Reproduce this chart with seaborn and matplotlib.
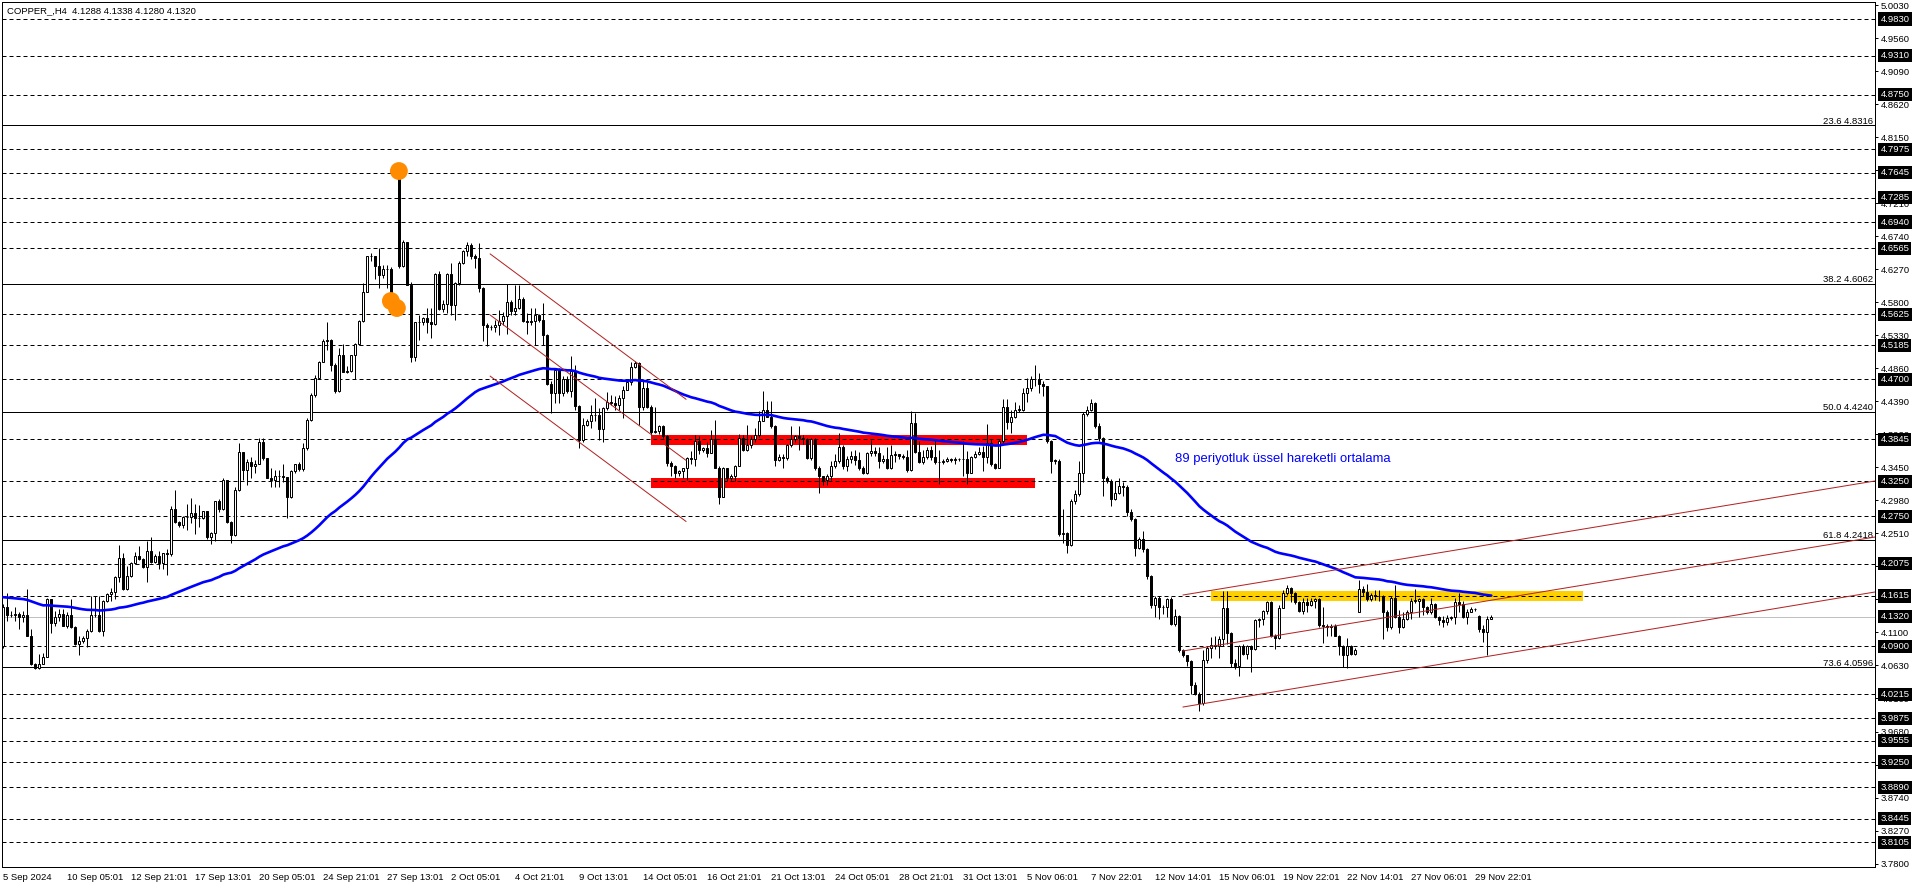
import numpy as np
import pandas as pd
import seaborn as sns
import matplotlib
matplotlib.use('Agg')
import matplotlib.pyplot as plt
from matplotlib.patches import Rectangle
from matplotlib.transforms import blended_transform_factory

# ---------------- data (COPPER_, H4) ----------------
closes = [
    4.146, 4.135, 4.134, 4.136, 4.131, 4.135, 4.105, 4.064, 4.059, 4.065,
    4.074, 4.157, 4.123, 4.131, 4.136, 4.119, 4.135, 4.117, 4.093, 4.098,
    4.102, 4.112, 4.134, 4.135, 4.112, 4.154, 4.164, 4.167, 4.188, 4.216,
    4.172, 4.190, 4.208, 4.219, 4.214, 4.203, 4.226, 4.210, 4.218, 4.208,
    4.222, 4.221, 4.285, 4.267, 4.262, 4.274, 4.274, 4.279, 4.272, 4.273,
    4.282, 4.246, 4.251, 4.296, 4.285, 4.326, 4.267, 4.248, 4.313, 4.366,
    4.341, 4.352, 4.346, 4.350, 4.381, 4.358, 4.330, 4.327, 4.332, 4.333,
    4.331, 4.303, 4.339, 4.349, 4.342, 4.372, 4.412, 4.448, 4.472, 4.495,
    4.525, 4.526, 4.490, 4.453, 4.504, 4.481, 4.482, 4.504, 4.520, 4.553,
    4.595, 4.645, 4.645, 4.631, 4.619, 4.627, 4.627, 4.585, 4.587, 4.631,
    4.665, 4.605, 4.502, 4.551, 4.551, 4.557, 4.552, 4.549, 4.620, 4.570,
    4.577, 4.620, 4.576, 4.607, 4.635, 4.653, 4.661, 4.646, 4.643, 4.600,
    4.547, 4.544, 4.544, 4.548, 4.553, 4.560, 4.580, 4.567, 4.571, 4.584,
    4.553, 4.552, 4.553, 4.562, 4.554, 4.533, 4.464, 4.450, 4.483, 4.450,
    4.471, 4.453, 4.482, 4.432, 4.384, 4.405, 4.411, 4.419, 4.419, 4.399,
    4.429, 4.438, 4.436, 4.433, 4.443, 4.455, 4.466, 4.488, 4.493, 4.431,
    4.458, 4.431, 4.395, 4.396, 4.403, 4.389, 4.351, 4.347, 4.337, 4.339,
    4.343, 4.358, 4.357, 4.382, 4.370, 4.372, 4.365, 4.385, 4.344, 4.303,
    4.343, 4.329, 4.332, 4.347, 4.387, 4.370, 4.376, 4.385, 4.390, 4.411,
    4.426, 4.417, 4.404, 4.355, 4.359, 4.358, 4.376, 4.385, 4.389, 4.387,
    4.385, 4.358, 4.385, 4.343, 4.332, 4.327, 4.333, 4.347, 4.354, 4.374,
    4.347, 4.356, 4.361, 4.355, 4.343, 4.336, 4.365, 4.368, 4.365, 4.354,
    4.356, 4.344, 4.362, 4.363, 4.361, 4.360, 4.341, 4.408, 4.367, 4.352,
    4.360, 4.370, 4.360, 4.352, 4.352, 4.353, 4.357, 4.355, 4.357, 4.356,
    4.357, 4.337, 4.360, 4.363, 4.367, 4.360, 4.380, 4.349, 4.344, 4.382,
    4.431, 4.409, 4.417, 4.427, 4.427, 4.451, 4.457, 4.471, 4.470, 4.463,
    4.460, 4.382, 4.354, 4.354, 4.249, 4.251, 4.234, 4.297, 4.306, 4.337,
    4.420, 4.426, 4.436, 4.404, 4.386, 4.329, 4.325, 4.300, 4.308, 4.318,
    4.317, 4.281, 4.271, 4.230, 4.243, 4.229, 4.190, 4.148, 4.158, 4.146,
    4.146, 4.157, 4.121, 4.133, 4.084, 4.077, 4.069, 4.035, 4.022, 4.009,
    4.070, 4.087, 4.092, 4.090, 4.100, 4.144, 4.109, 4.066, 4.062, 4.090,
    4.079, 4.090, 4.086, 4.127, 4.128, 4.140, 4.153, 4.105, 4.101, 4.145,
    4.165, 4.173, 4.165, 4.153, 4.140, 4.153, 4.148, 4.155, 4.157, 4.120,
    4.118, 4.117, 4.119, 4.105, 4.090, 4.077, 4.090, 4.079, 4.084, 4.171,
    4.167, 4.157, 4.163, 4.161, 4.161, 4.139, 4.117, 4.158, 4.131, 4.117,
    4.128, 4.138, 4.155, 4.155, 4.157, 4.146, 4.138, 4.150, 4.132, 4.127,
    4.124, 4.130, 4.131, 4.153, 4.150, 4.131, 4.139, 4.143, 4.143, 4.115,
    4.110, 4.1288, 4.1320,
]

highs = [
    4.150, 4.166, 4.140, 4.146, 4.139, 4.140, 4.172, 4.114, 4.066, 4.079,
    4.080, 4.158, 4.157, 4.140, 4.143, 4.143, 4.138, 4.157, 4.118, 4.105,
    4.105, 4.114, 4.161, 4.161, 4.161, 4.156, 4.166, 4.173, 4.190, 4.234,
    4.222, 4.204, 4.210, 4.224, 4.233, 4.216, 4.240, 4.246, 4.221, 4.225,
    4.223, 4.229, 4.290, 4.313, 4.268, 4.276, 4.292, 4.301, 4.292, 4.291,
    4.283, 4.283, 4.252, 4.297, 4.300, 4.329, 4.327, 4.268, 4.316, 4.379,
    4.366, 4.356, 4.360, 4.355, 4.386, 4.386, 4.358, 4.343, 4.341, 4.341,
    4.350, 4.331, 4.341, 4.350, 4.352, 4.379, 4.415, 4.450, 4.476, 4.496,
    4.528, 4.551, 4.528, 4.493, 4.515, 4.520, 4.489, 4.505, 4.521, 4.555,
    4.607, 4.646, 4.650, 4.646, 4.657, 4.633, 4.633, 4.630, 4.590, 4.767,
    4.668, 4.666, 4.609, 4.552, 4.562, 4.559, 4.571, 4.572, 4.621, 4.624,
    4.583, 4.621, 4.635, 4.609, 4.638, 4.654, 4.665, 4.664, 4.648, 4.664,
    4.602, 4.550, 4.548, 4.555, 4.569, 4.566, 4.606, 4.583, 4.605, 4.605,
    4.587, 4.565, 4.571, 4.571, 4.563, 4.579, 4.535, 4.467, 4.486, 4.486,
    4.474, 4.475, 4.503, 4.490, 4.434, 4.415, 4.413, 4.434, 4.443, 4.429,
    4.431, 4.452, 4.447, 4.446, 4.448, 4.460, 4.469, 4.495, 4.496, 4.494,
    4.469, 4.466, 4.433, 4.430, 4.405, 4.405, 4.391, 4.353, 4.348, 4.341,
    4.344, 4.359, 4.368, 4.391, 4.389, 4.374, 4.381, 4.398, 4.412, 4.346,
    4.345, 4.343, 4.335, 4.348, 4.392, 4.390, 4.405, 4.389, 4.400, 4.425,
    4.453, 4.439, 4.439, 4.405, 4.363, 4.363, 4.378, 4.403, 4.390, 4.403,
    4.390, 4.387, 4.386, 4.386, 4.347, 4.333, 4.335, 4.353, 4.363, 4.394,
    4.376, 4.361, 4.368, 4.370, 4.366, 4.346, 4.366, 4.384, 4.373, 4.374,
    4.362, 4.373, 4.376, 4.368, 4.364, 4.363, 4.370, 4.425, 4.422, 4.382,
    4.370, 4.373, 4.375, 4.384, 4.370, 4.356, 4.360, 4.358, 4.359, 4.358,
    4.382, 4.368, 4.361, 4.368, 4.373, 4.375, 4.406, 4.385, 4.351, 4.385,
    4.442, 4.442, 4.427, 4.437, 4.433, 4.457, 4.472, 4.475, 4.490, 4.479,
    4.468, 4.461, 4.384, 4.356, 4.356, 4.285, 4.252, 4.299, 4.313, 4.354,
    4.423, 4.432, 4.442, 4.437, 4.408, 4.388, 4.332, 4.328, 4.325, 4.329,
    4.324, 4.320, 4.285, 4.272, 4.245, 4.254, 4.230, 4.192, 4.162, 4.162,
    4.148, 4.159, 4.160, 4.143, 4.134, 4.086, 4.078, 4.070, 4.039, 4.025,
    4.084, 4.090, 4.103, 4.104, 4.104, 4.169, 4.169, 4.110, 4.072, 4.092,
    4.093, 4.092, 4.091, 4.129, 4.130, 4.141, 4.154, 4.155, 4.108, 4.148,
    4.170, 4.177, 4.174, 4.167, 4.155, 4.158, 4.158, 4.158, 4.159, 4.159,
    4.146, 4.122, 4.122, 4.121, 4.106, 4.092, 4.101, 4.092, 4.087, 4.184,
    4.175, 4.179, 4.165, 4.170, 4.170, 4.163, 4.141, 4.161, 4.177, 4.141,
    4.139, 4.141, 4.158, 4.172, 4.159, 4.158, 4.147, 4.158, 4.151, 4.133,
    4.133, 4.134, 4.133, 4.158, 4.165, 4.155, 4.143, 4.146, 4.145, 4.134,
    4.120, 4.133, 4.1338,
]

lows = [
    4.088, 4.126, 4.131, 4.126, 4.115, 4.124, 4.104, 4.063, 4.057, 4.057,
    4.065, 4.074, 4.109, 4.119, 4.126, 4.118, 4.116, 4.116, 4.091, 4.077,
    4.095, 4.089, 4.110, 4.131, 4.110, 4.105, 4.153, 4.155, 4.157, 4.181,
    4.170, 4.170, 4.189, 4.207, 4.212, 4.202, 4.181, 4.208, 4.209, 4.200,
    4.200, 4.191, 4.219, 4.265, 4.259, 4.258, 4.256, 4.265, 4.249, 4.259,
    4.271, 4.242, 4.235, 4.240, 4.281, 4.284, 4.266, 4.237, 4.247, 4.311,
    4.327, 4.320, 4.329, 4.336, 4.349, 4.355, 4.329, 4.317, 4.317, 4.316,
    4.324, 4.273, 4.301, 4.336, 4.340, 4.339, 4.369, 4.410, 4.445, 4.471,
    4.494, 4.512, 4.482, 4.450, 4.452, 4.480, 4.479, 4.481, 4.471, 4.519,
    4.552, 4.594, 4.639, 4.613, 4.600, 4.614, 4.600, 4.575, 4.576, 4.629,
    4.630, 4.604, 4.495, 4.496, 4.526, 4.548, 4.536, 4.529, 4.548, 4.569,
    4.566, 4.564, 4.562, 4.555, 4.605, 4.634, 4.646, 4.642, 4.628, 4.595,
    4.524, 4.517, 4.540, 4.538, 4.533, 4.547, 4.534, 4.562, 4.562, 4.570,
    4.552, 4.535, 4.547, 4.519, 4.552, 4.519, 4.462, 4.422, 4.436, 4.436,
    4.446, 4.450, 4.445, 4.426, 4.372, 4.381, 4.403, 4.400, 4.410, 4.384,
    4.381, 4.426, 4.434, 4.426, 4.426, 4.415, 4.455, 4.462, 4.486, 4.405,
    4.426, 4.429, 4.391, 4.393, 4.392, 4.386, 4.346, 4.332, 4.329, 4.333,
    4.329, 4.327, 4.349, 4.346, 4.363, 4.366, 4.359, 4.368, 4.343, 4.292,
    4.302, 4.325, 4.326, 4.325, 4.346, 4.368, 4.368, 4.372, 4.381, 4.388,
    4.410, 4.416, 4.401, 4.346, 4.353, 4.344, 4.355, 4.374, 4.381, 4.370,
    4.378, 4.357, 4.355, 4.341, 4.308, 4.320, 4.320, 4.327, 4.343, 4.351,
    4.342, 4.340, 4.351, 4.348, 4.341, 4.335, 4.335, 4.361, 4.361, 4.344,
    4.351, 4.342, 4.342, 4.352, 4.357, 4.357, 4.338, 4.340, 4.365, 4.351,
    4.350, 4.357, 4.355, 4.349, 4.321, 4.349, 4.352, 4.352, 4.350, 4.353,
    4.332, 4.321, 4.336, 4.358, 4.362, 4.339, 4.351, 4.347, 4.342, 4.343,
    4.380, 4.399, 4.394, 4.415, 4.423, 4.425, 4.437, 4.453, 4.460, 4.451,
    4.446, 4.380, 4.337, 4.349, 4.247, 4.237, 4.223, 4.233, 4.292, 4.304,
    4.324, 4.418, 4.425, 4.401, 4.382, 4.304, 4.323, 4.290, 4.298, 4.306,
    4.304, 4.275, 4.268, 4.219, 4.228, 4.224, 4.185, 4.145, 4.131, 4.129,
    4.136, 4.131, 4.120, 4.119, 4.082, 4.075, 4.062, 4.022, 4.021, 3.998,
    4.006, 4.066, 4.073, 4.086, 4.073, 4.090, 4.093, 4.060, 4.058, 4.048,
    4.077, 4.072, 4.053, 4.084, 4.117, 4.120, 4.136, 4.103, 4.086, 4.100,
    4.144, 4.163, 4.153, 4.150, 4.138, 4.136, 4.139, 4.147, 4.145, 4.117,
    4.094, 4.105, 4.105, 4.104, 4.077, 4.060, 4.059, 4.077, 4.077, 4.138,
    4.162, 4.155, 4.155, 4.156, 4.155, 4.100, 4.112, 4.115, 4.130, 4.109,
    4.116, 4.127, 4.128, 4.152, 4.131, 4.135, 4.136, 4.136, 4.130, 4.120,
    4.117, 4.120, 4.127, 4.122, 4.139, 4.130, 4.122, 4.139, 4.140, 4.110,
    4.096, 4.078, 4.128,
]

# bars whose open is not the previous close (weekend gaps / first bar)
gap_opens = {0: 4.090, 99: 4.767, 339: 4.139, 369: 4.133}

ema_seed = 4.160   # EMA(89) value just before the first bar

time_labels = ['5 Sep 2024', '10 Sep 05:01', '12 Sep 21:01', '17 Sep 13:01', '20 Sep 05:01',
               '24 Sep 21:01', '27 Sep 13:01', '2 Oct 05:01', '4 Oct 21:01', '9 Oct 13:01',
               '14 Oct 05:01', '16 Oct 21:01', '21 Oct 13:01', '24 Oct 05:01', '28 Oct 21:01',
               '31 Oct 13:01', '5 Nov 06:01', '7 Nov 22:01', '12 Nov 14:01', '15 Nov 06:01',
               '19 Nov 22:01', '22 Nov 14:01', '27 Nov 06:01', '29 Nov 22:01']
label_every = 16

price_ticks = [5.0030, 4.9560, 4.9090, 4.8620, 4.8150, 4.7680, 4.7210, 4.6740, 4.6270,
               4.5800, 4.5330, 4.4860, 4.4390, 4.3920, 4.3450, 4.2980, 4.2510, 4.2040,
               4.1570, 4.1100, 4.0630, 4.0160, 3.9680, 3.9210, 3.8740, 3.8270, 3.7800]

level_lines = [4.9830, 4.9310, 4.8750, 4.7975, 4.7645, 4.7285, 4.6940, 4.6565, 4.5625,
               4.5185, 4.4700, 4.3845, 4.3250, 4.2750, 4.2075, 4.1615, 4.0900, 4.0215,
               3.9875, 3.9555, 3.9250, 3.8890, 3.8445, 3.8105]

fib_pct = ['23.6', '38.2', '50.0', '61.8', '73.6']
fib_levels = [4.8316, 4.6062, 4.4240, 4.2418, 4.0596]

last_price = 4.1320
title = 'COPPER_,H4  4.1288 4.1338 4.1280 4.1320'

# trend lines: (bar start, price start, bar end, price end)
channel_down = [(121.7, 4.6486, 170.7, 4.4415),
                (121.7, 4.5616, 170.7, 4.3545),
                (121.7, 4.4746, 170.7, 4.2675)]
channel_up = [(294.9, 4.1628, 467.9, 4.3252),
              (294.9, 4.0831, 467.9, 4.2454),
              (294.9, 4.0033, 467.9, 4.1671)]

# zones: (bar start, bar end, price low, price high)
red_zones = [(161.9, 255.9, 4.3765, 4.3905),
             (161.9, 257.9, 4.3157, 4.3299)]
yellow_zone = (301.9, 394.9, 4.1543, 4.1685)

marker_bars = [98.9, 96.9, 98.4]
marker_prices = [4.7666, 4.5815, 4.5715]

ema_note = '89 periyotluk üssel hareketli ortalama'
ema_note_pos = (292.9, 4.3565)

# ---------------- build frame ----------------
n = len(closes)
opens = [gap_opens.get(0)] + closes[:-1]
for i, v in gap_opens.items():
    opens[i] = v
df = pd.DataFrame({'bar': np.arange(n), 'open': opens, 'high': highs,
                   'low': lows, 'close': closes})
df['ema'] = pd.Series([ema_seed] + closes).ewm(span=89, adjust=False).mean().iloc[1:].values

# ---------------- figure ----------------
sns.set_style('white')
plt.rcParams['font.family'] = ['Liberation Sans', 'DejaVu Sans']

W, H = 1916, 888
fig = plt.figure(figsize=(W / 100, H / 100), dpi=100)
ax = fig.add_axes([2 / W, 21 / H, 1873 / W, 865 / H])
ax.set_xlim(-0.325, 467.925)
ax.set_ylim(3.7755, 5.0073)
px = 0.72  # one pixel in points

for s in ax.spines.values():
    s.set_color('black')
    s.set_linewidth(px)

# zones behind everything
for x0, x1, y0, y1 in red_zones:
    ax.add_patch(Rectangle((x0, y0), x1 - x0, y1 - y0, facecolor='#FF0000',
                           edgecolor='none', zorder=1))
x0, x1, y0, y1 = yellow_zone
ax.add_patch(Rectangle((x0, y0), x1 - x0, y1 - y0, facecolor='#FFD000',
                       edgecolor='none', zorder=1))

# horizontal levels
for lv in level_lines:
    ax.axhline(lv, color='black', lw=px, ls=(0, (4, 3)), zorder=2)
for pct, lv in zip(fib_pct, fib_levels):
    ax.axhline(lv, color='black', lw=px, zorder=2)
    ax.text(0.9988, lv + 0.0026, f'{pct} {lv:.4f}', transform=blended_transform_factory(ax.transAxes, ax.transData),
            ha='right', va='baseline', fontsize=6.8, color='black', zorder=3)
ax.axhline(last_price, color='#C0C0C0', lw=px, zorder=2)

# candles
ax.vlines(df['bar'], df['low'], df['high'], color='black', lw=px, zorder=4)
body_lo = df[['open', 'close']].min(axis=1)
body_h = (df['close'] - df['open']).abs().clip(lower=0.0004)
bull = df['close'] >= df['open']
ax.bar(df['bar'][bull], body_h[bull], bottom=body_lo[bull], width=0.5,
       color='white', edgecolor='black', linewidth=px, zorder=5)
ax.bar(df['bar'][~bull], body_h[~bull], bottom=body_lo[~bull], width=0.5,
       color='black', edgecolor='black', linewidth=px, zorder=5)

# EMA 89
sns.lineplot(data=df, x='bar', y='ema', color='#0000FF', lw=1.9, ax=ax, zorder=6)

# trend channels
for xa, ya, xb, yb in channel_down + channel_up:
    ax.plot([xa, xb], [ya, yb], color='#B22222', lw=px, zorder=7)

# orange markers
ax.scatter(marker_bars, marker_prices, s=165, color='#FF8C00', edgecolor='none', zorder=8)

ax.text(ema_note_pos[0], ema_note_pos[1], ema_note, color='#0000FF', fontsize=9.4,
        ha='left', va='center', zorder=9)
ax.text(0.0027, 1 - 4 / 865, title, transform=ax.transAxes, ha='left', va='top',
        fontsize=6.8, color='black', zorder=9)

# axes ticks
ax.set_xlabel('')
ax.set_ylabel('')
ax.set_xticks(np.arange(len(time_labels)) * label_every)
ax.set_xticklabels(time_labels, ha='left')
ax.yaxis.tick_right()
ax.set_yticks(price_ticks)
ax.set_yticklabels([f'{v:.4f}' for v in price_ticks])
ax.tick_params(axis='both', which='both', direction='out', length=2.5, width=px,
               pad=1.5, labelsize=6.8, colors='black')
ax.tick_params(axis='y', left=False, right=True)

# price boxes on the right scale (they cover the scale labels beneath them)
tr = blended_transform_factory(ax.transAxes, ax.transData)
for lv in level_lines + [last_price]:
    ax.text(1.0029, lv, f'{lv:.4f}', transform=tr, ha='left', va='center',
            fontsize=6.8, color='white', clip_on=False, zorder=10,
            bbox=dict(boxstyle='square,pad=0.22', facecolor='black', edgecolor='none'))

fig.savefig('out.png', dpi=100, facecolor='white')
